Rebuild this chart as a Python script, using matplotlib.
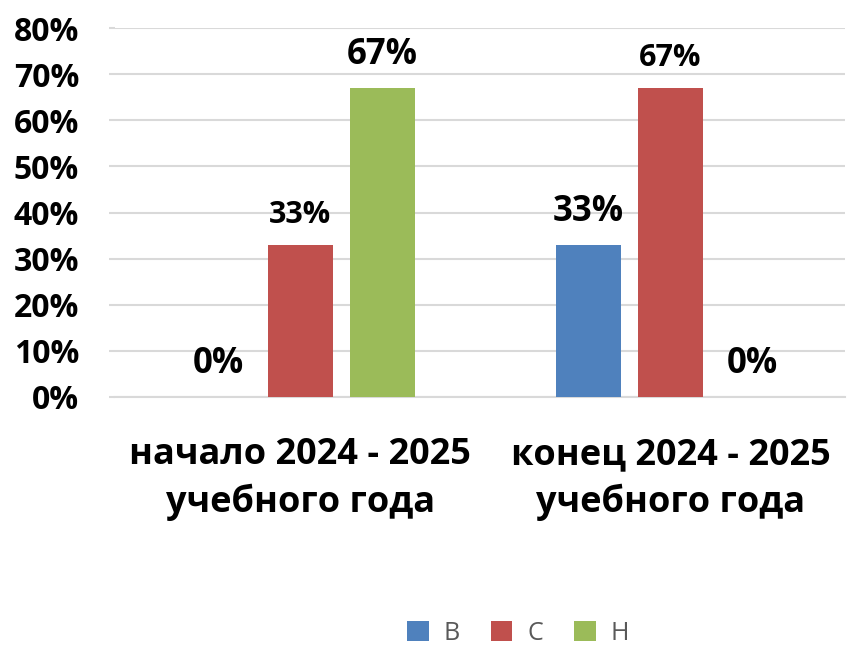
import matplotlib
matplotlib.use("Agg")
import matplotlib.pyplot as plt
import numpy as np
from matplotlib.ticker import PercentFormatter

plt.rcParams['font.family'] = ['Open Sans', 'DejaVu Sans']

categories = ["начало 2024 - 2025\nучебного года", "конец 2024 - 2025\nучебного года"]
series = ["В", "С", "Н"]
values = {
    "В": [0, 33],
    "С": [33, 67],
    "Н": [67, 0],
}
colors = {"В": "#4F81BD", "С": "#C0504D", "Н": "#9BBB59"}
# label font size per bar (some labels are formatted larger in the source)
label_sizes = {
    "В": [25, 25],
    "С": [22, 22],
    "Н": [25, 25],
}

fig = plt.figure(figsize=(8.48, 6.45), dpi=100)
ax = fig.add_axes([0.136, 0.3845, 0.860, 0.572])

x = np.arange(len(categories))
width = 0.176
step = 0.222
for i, s in enumerate(series):
    pos = x + (i - 1) * step
    ax.bar(pos, values[s], width, color=colors[s], label=s, zorder=3)
    for px, v, fs in zip(pos, values[s], label_sizes[s]):
        ax.annotate(f"{v}%", (px, v), xytext=(0, 11), textcoords="offset points",
                    ha="center", va="bottom", fontsize=fs, fontweight="bold",
                    color="black")

ax.set_ylim(0, 80)
ax.set_xlim(-0.5, 1.47)
ax.set_yticks(np.arange(0, 81, 10))
ax.yaxis.set_major_formatter(PercentFormatter(decimals=0))
ax.set_xticks(x)
ax.set_xticklabels(categories, fontsize=26, fontweight="bold", linespacing=1.35)
for t in ax.get_yticklabels():
    t.set_fontsize(23)
    t.set_fontweight("bold")

ax.grid(axis="y", color="#D9D9D9", linewidth=1.5, zorder=0)
for sp in ["left", "right", "top"]:
    ax.spines[sp].set_visible(False)
ax.spines["bottom"].set_color("#D9D9D9")
ax.spines["bottom"].set_linewidth(1.5)
ax.tick_params(axis="y", length=4, color="#D9D9D9", width=1.5, pad=22)
ax.tick_params(axis="x", length=0, pad=29)

leg = fig.legend(loc="center", bbox_to_anchor=(0.611, 0.018), ncol=3, frameon=False,
                 fontsize=18, handlelength=0.85, handleheight=0.85, columnspacing=1.25,
                 handletextpad=0.6)
for t in leg.get_texts():
    t.set_color("#595959")

fig.savefig("out.png", dpi=100)
